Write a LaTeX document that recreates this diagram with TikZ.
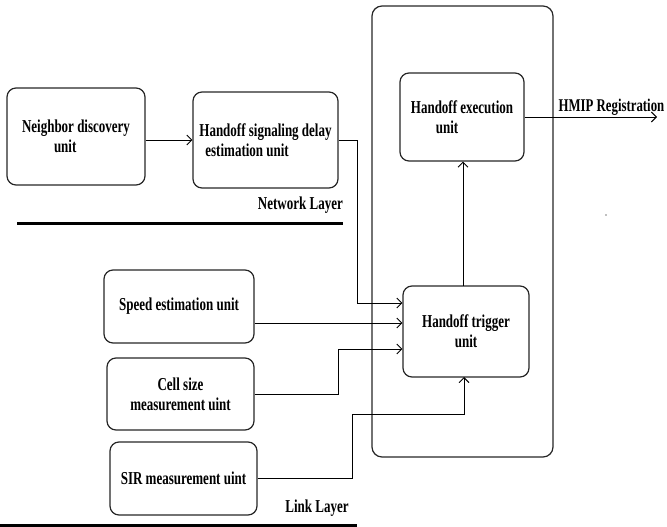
\documentclass[tikz,border=0pt]{standalone}
\usepackage{fontspec}
\setmainfont{Liberation Serif}
\usepackage{graphicx}
\usetikzlibrary{arrows.meta}
\newcommand{\vs}[1]{\scalebox{1}[1.4]{#1}}
\begin{document}
\begin{tikzpicture}[x=1pt,y=-1pt,
  box/.style={draw=black!85, line width=1.2pt, rounded corners=9pt, inner sep=0pt,
    font=\bfseries\fontsize{13}{20}\selectfont},
  conn/.style={line width=0.9pt},
  arr/.style={conn, -{Straight Barb[length=5pt,width=10pt]}},
  layer/.style={line width=3pt},
  lbl/.style={font=\bfseries\fontsize{13}{20}\selectfont, inner sep=0pt}]
\useasboundingbox (0,0) rectangle (667,527);
% container
\node[draw=black!85, line width=1.2pt, rounded corners=10pt, inner sep=0pt,
  minimum width=181pt, minimum height=451pt] (cont) at (462.5,231.5) {};
\fill[gray] (606,215) circle (0.8pt);
% boxes
\node[box, minimum width=138pt, minimum height=97pt, align=left] (nb) at (76,136.5)
  {\vs{Neighbor discovery}\\\hspace*{32pt}\vs{unit}};
\node[box, minimum width=145pt, minimum height=96pt, align=left] (sig) at (265.5,140)
  {\vs{Handoff signaling delay}\\\hspace*{6pt}\vs{estimation unit}};
\node[box, minimum width=124pt, minimum height=88pt, align=left] (exec) at (462,117)
  {\vs{Handoff execution}\\\hspace*{25pt}\vs{unit}};
\node[box, minimum width=126pt, minimum height=91pt, align=center] (trig) at (466,331.5)
  {\vs{Handoff trigger}\\\vs{unit}};
\node[box, minimum width=150pt, minimum height=73pt] (speed) at (179,306.5)
  {\vs{Speed estimation unit}};
\node[box, minimum width=147pt, minimum height=72pt, align=center] (cell) at (180.5,394)
  {\vs{Cell size}\\\vs{measurement uint}};
\node[box, minimum width=147pt, minimum height=73pt] (sir) at (183.5,478.5)
  {\vs{SIR measurement uint}};
% helper coordinates
\coordinate (y1) at (0,303);
\coordinate (y2) at (0,323);
\coordinate (y3) at (0,349);
\coordinate (hmip) at (657,117);
% connectors
\draw[arr] (nb.east |- sig.west) -- (sig.west);
\draw[arr] (sig.east) -- (357,140) -- (357,303) -- (trig.west |- y1);
\draw[arr] (speed.east |- y2) -- (trig.west |- y2);
\draw[arr] (cell.east) -- (338,394) -- (338,349) -- (trig.west |- y3);
\draw[arr] (sir.east) -- (352,478.5) -- (352,414) -- (464,414) -- (464,377);
\draw[arr] (463,286) -- (exec.south -| 463,0);
\draw[arr] (exec.east) -- (hmip);
\node[lbl, anchor=west, font=\bfseries\fontsize{12.8}{20}\selectfont] (hmipl) at (558.5,107) {\vs{HMIP Registration}};
% layers
\draw[layer] (17,223) -- (343,223);
\node[lbl, anchor=east] (netl) at (343,205) {\vs{Network Layer}};
\draw[layer] (0,525) -- (357,525);
\node[lbl] (linkl) at (317,508) {\vs{Link Layer}};
\end{tikzpicture}
\end{document}
